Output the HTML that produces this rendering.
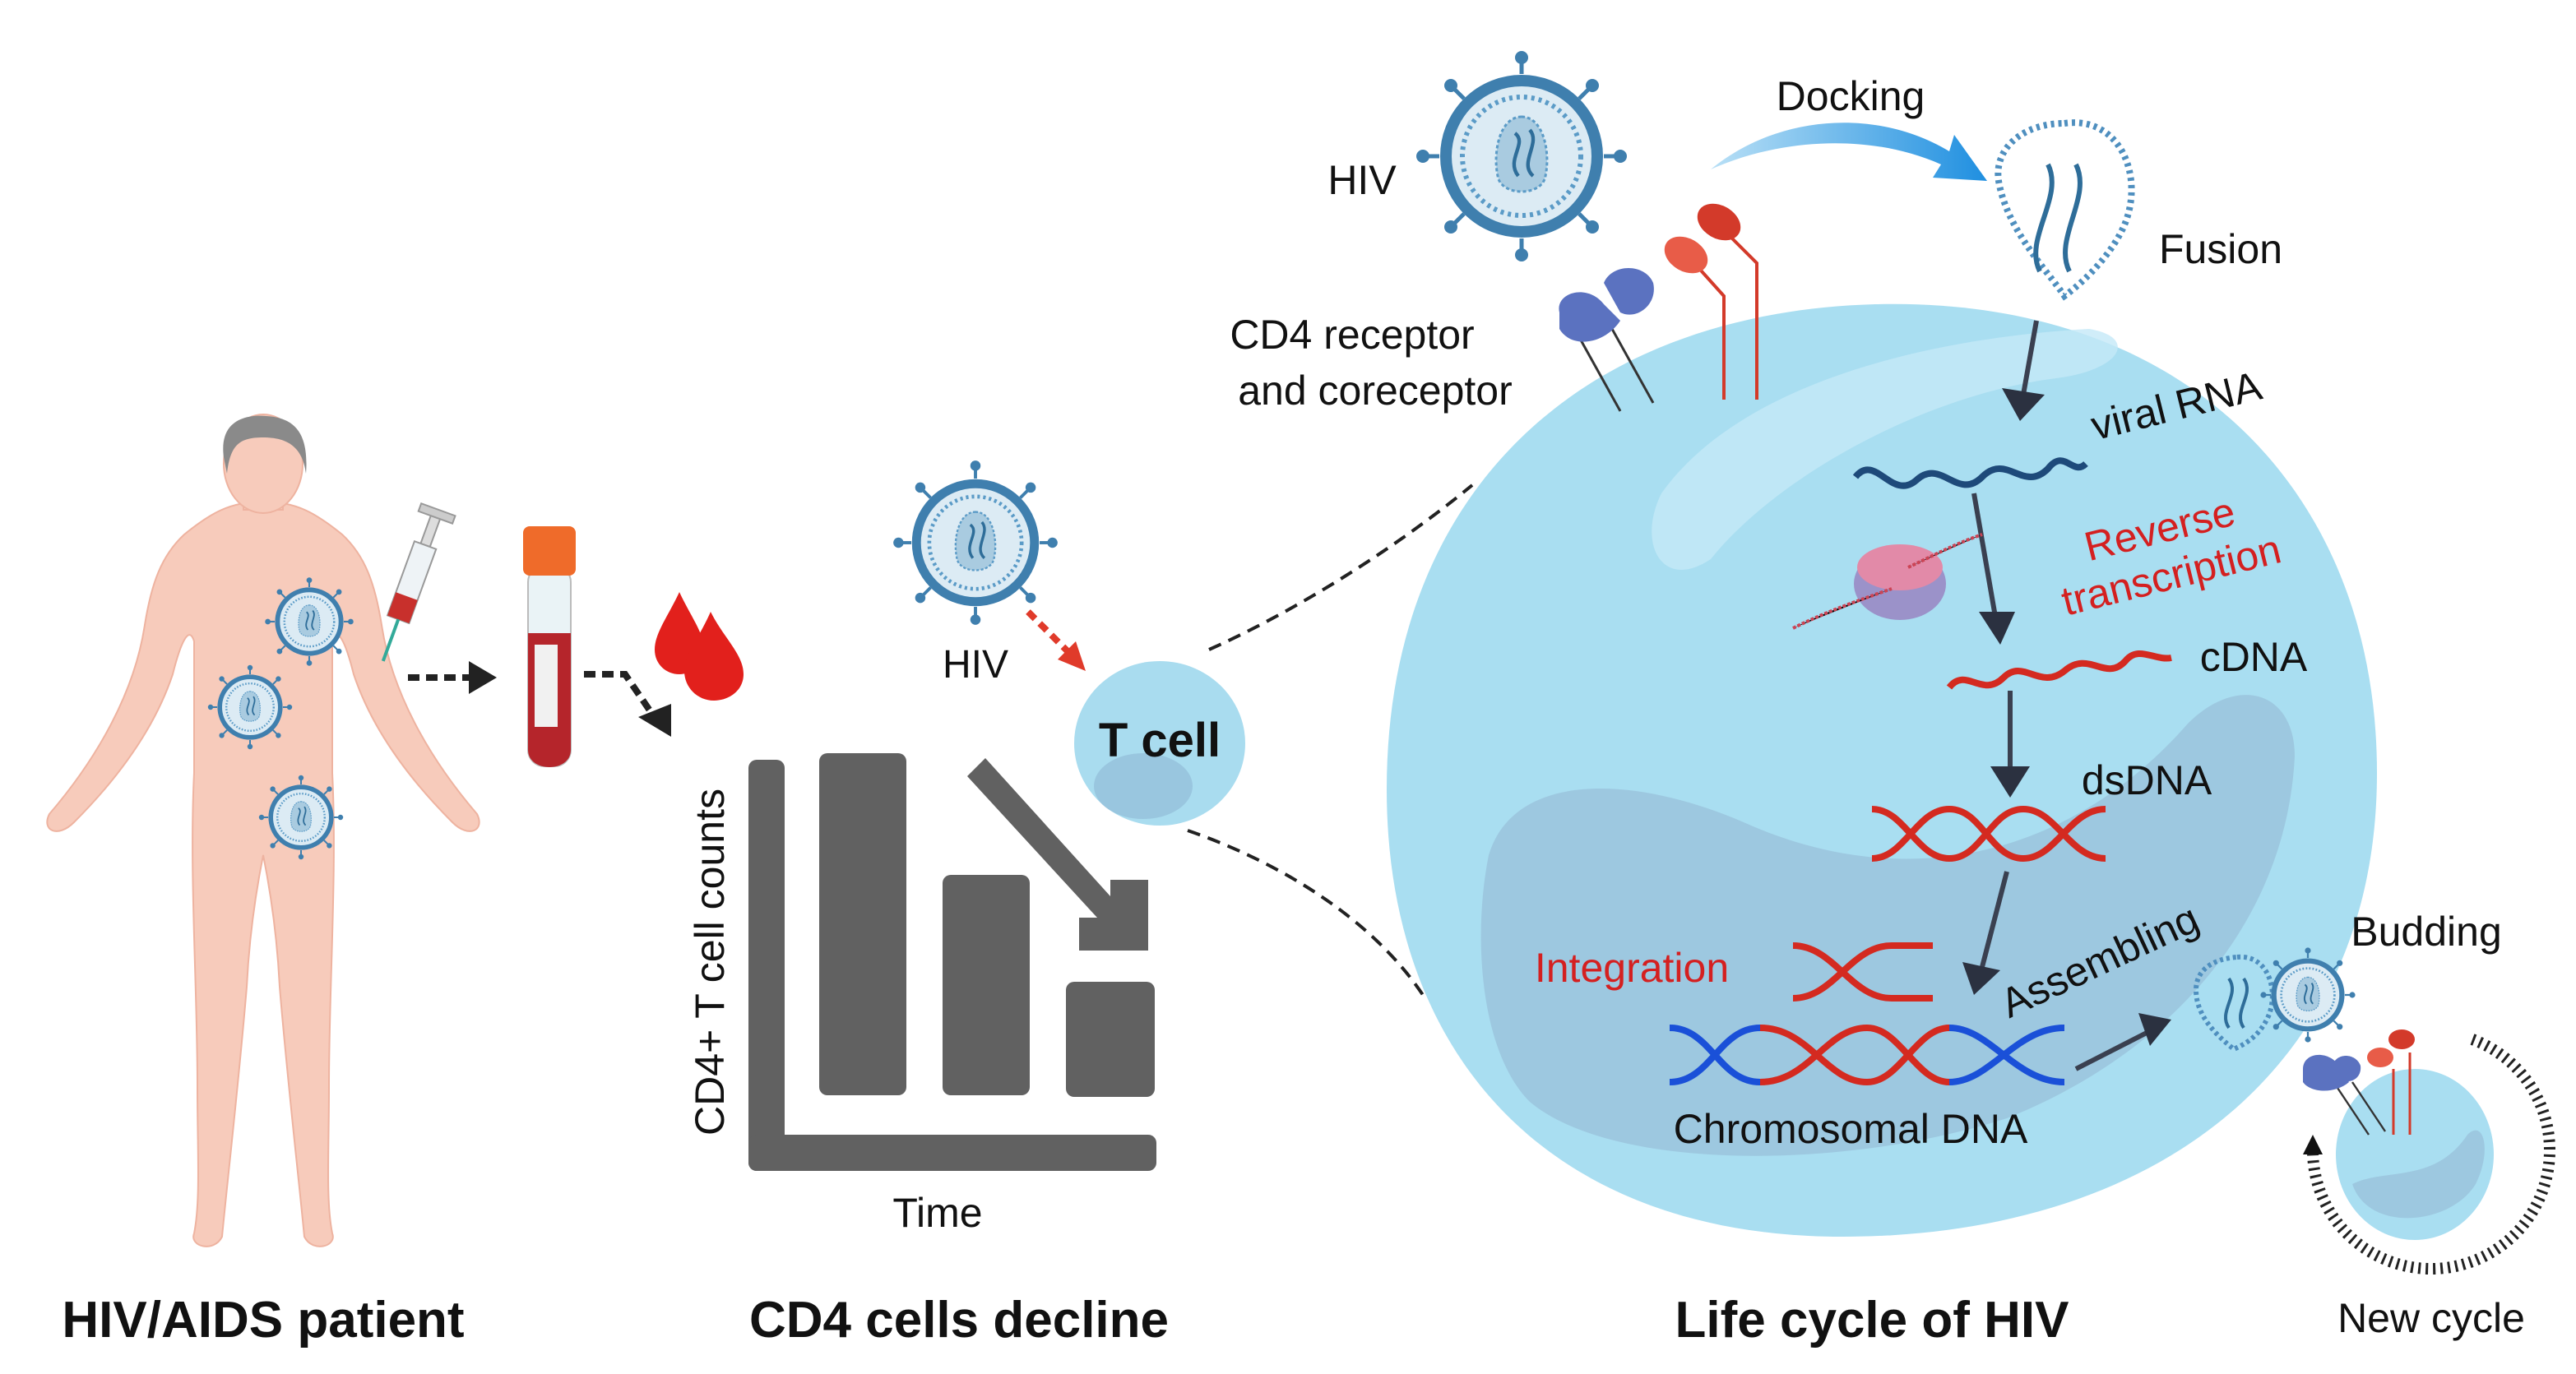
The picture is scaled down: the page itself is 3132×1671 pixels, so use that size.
<!DOCTYPE html>
<html><head><meta charset="utf-8"><style>
html,body{margin:0;padding:0;background:#fff;}
svg{display:block;}
text{font-family:"Liberation Sans",sans-serif;}
</style></head><body>
<svg width="3132" height="1671" viewBox="0 0 1566 835.5" xmlns="http://www.w3.org/2000/svg">
<defs>
<g id="virus">
  <g stroke="#3f7fae" stroke-width="2.5">
    <line x1="0" y1="-50" x2="0" y2="-58"/><line x1="0" y1="50" x2="0" y2="58"/>
    <line x1="-50" y1="0" x2="-58" y2="0"/><line x1="50" y1="0" x2="58" y2="0"/>
    <line x1="35" y1="35" x2="41" y2="41"/><line x1="-35" y1="35" x2="-41" y2="41"/>
    <line x1="35" y1="-35" x2="41" y2="-41"/><line x1="-35" y1="-35" x2="-41" y2="-41"/>
  </g>
  <g fill="#3f7fae">
    <circle cx="0" cy="-60" r="4"/><circle cx="0" cy="60" r="4"/><circle cx="-60" cy="0" r="4"/><circle cx="60" cy="0" r="4"/>
    <circle cx="43" cy="43" r="4"/><circle cx="-43" cy="43" r="4"/><circle cx="43" cy="-43" r="4"/><circle cx="-43" cy="-43" r="4"/>
  </g>
  <circle r="46" fill="#dcebf4" stroke="#3f7fae" stroke-width="7"/>
  <circle r="36" fill="none" stroke="#5b9bc7" stroke-width="3" stroke-dasharray="2 2.5"/>
  <path d="M0,-24 C14,-24 18,0 14,14 C10,24 -10,24 -14,14 C-18,0 -14,-24 0,-24Z" fill="#a9cbe0" stroke="#5b9bc7" stroke-width="1.5" stroke-dasharray="2 1.5"/>
  <path d="M-4,-14 C4,-8 -10,2 -2,12 M5,-16 C12,-8 -2,4 7,12" fill="none" stroke="#2e6d99" stroke-width="2.2"/>
</g>
<linearGradient id="dock" x1="0" x2="1"><stop offset="0" stop-color="#b9e0f6"/><stop offset="1" stop-color="#1f8fe0"/></linearGradient>
</defs>

<!-- PATIENT -->
<g fill="#f7cbbb" stroke="#eeb3a0" stroke-width="1">
  <path d="M160,305 C140,305 128,312 112,325 C98,338 92,355 88,380 C82,420 60,460 30,495 C25,505 35,510 45,500 C75,470 95,440 105,410 C110,390 115,380 118,390 L118,470 C115,530 120,600 120,660 C120,700 122,730 118,750 C115,758 130,762 135,752 C138,720 145,660 150,600 C152,560 158,530 160,520 C162,530 168,560 170,600 C175,660 182,720 185,752 C190,762 205,758 202,750 C198,730 200,700 200,660 C200,600 205,530 202,470 L202,390 C205,380 210,390 215,410 C225,440 245,470 275,500 C285,510 295,505 290,495 C260,460 238,420 232,380 C228,355 222,338 208,325 C192,312 180,305 160,305Z"/>
  <path d="M148,290 L148,310 L172,310 L172,290Z"/>
  <ellipse cx="160" cy="282" rx="24" ry="30"/>
</g>
<path d="M136,278 C133,255 150,252 162,253 C178,254 188,262 186,288 C184,272 175,266 160,266 C146,266 140,270 138,288Z" fill="#8a8a8a"/>
<g transform="translate(188,378) scale(0.42)"><use href="#virus"/></g>
<g transform="translate(152,430) scale(0.4)"><use href="#virus"/></g>
<g transform="translate(183,497) scale(0.4)"><use href="#virus"/></g>
<!-- syringe -->
<g transform="translate(250,355) rotate(20)">
  <rect x="-3" y="-45" width="6" height="20" fill="#ddd" stroke="#999"/>
  <rect x="-11" y="-48" width="22" height="5" fill="#ccc" stroke="#999"/>
  <rect x="-7" y="-25" width="14" height="48" fill="#eef3f6" stroke="#999"/>
  <rect x="-7" y="8" width="14" height="15" fill="#c8302c"/>
  <line x1="0" y1="23" x2="0" y2="50" stroke="#3a9" stroke-width="2"/>
</g>
<g stroke="#222" stroke-width="4" stroke-dasharray="7 4" fill="none">
  <line x1="248" y1="412" x2="285" y2="412"/>
  <path d="M355,410 L380,410 L395,432"/>
</g>
<path d="M285,402 L302,412 L285,422Z" fill="#222"/>
<path d="M388,436 L408,448 L408,428Z" fill="#222"/>
<rect x="321" y="344" width="26" height="122" rx="10" fill="#eaf3f6" stroke="#bbb"/>
<path d="M321,385 L347,385 L347,456 C347,470 321,470 321,456Z" fill="#b5252b"/>
<rect x="325" y="392" width="14" height="50" fill="#f1f1f1"/>
<rect x="318" y="320" width="32" height="30" rx="4" fill="#ef6b2a"/>
<path d="M413,360 C420,375 428,385 428,395 C428,405 420,410 413,410 C405,410 398,404 398,395 C398,385 406,375 413,360Z" fill="#e2201c"/>
<path d="M432,372 C440,388 452,398 452,410 C452,420 443,426 434,426 C424,426 416,418 416,408 C416,398 425,388 432,372Z" fill="#e2201c"/>

<!-- CHART -->
<g fill="#616161">
  <rect x="455" y="462" width="22" height="250" rx="5"/>
  <rect x="455" y="690" width="248" height="22" rx="5"/>
  <rect x="498" y="458" width="53" height="208" rx="5"/>
  <rect x="573" y="532" width="53" height="134" rx="5"/>
  <rect x="648" y="597" width="54" height="70" rx="5"/>
  <path d="M588,472 L599,461 L675,545 L675,535 L698,535 L698,578 L656,578 L656,558 L667,558Z"/>
</g>
<text transform="translate(440,585) rotate(-90)" font-size="25" text-anchor="middle" fill="#111">CD4+ T cell counts</text>
<text x="570" y="746" font-size="25" text-anchor="middle" fill="#111">Time</text>

<g transform="translate(593,330) scale(0.78)"><use href="#virus"/></g>
<text x="593" y="412" font-size="24" text-anchor="middle" fill="#111">HIV</text>
<line x1="625" y1="372" x2="650" y2="397" stroke="#e03a2a" stroke-width="4" stroke-dasharray="6 4"/>
<path d="M643,401 L660,408 L654,390Z" fill="#e03a2a"/>
<ellipse cx="705" cy="452" rx="52" ry="50" fill="#a9dcef"/>
<ellipse cx="695" cy="478" rx="30" ry="20" fill="#8fb8d3" opacity=".6"/>
<text x="705" y="460" font-size="29" font-weight="bold" text-anchor="middle" fill="#111">T cell</text>
<g stroke="#222" stroke-width="2" stroke-dasharray="8 5" fill="none">
  <path d="M735,395 C780,375 840,340 895,295"/>
  <path d="M722,505 C780,525 835,560 865,605"/>
</g>

<!-- BIG CELL -->
<path d="M1140,185 C1330,180 1445,300 1445,470 C1445,650 1310,752 1120,752 C940,752 843,640 843,480 C843,300 960,190 1140,185Z" fill="#a9def1"/>
<path d="M1010,300 C1060,230 1180,205 1270,200 C1300,205 1290,225 1250,230 C1170,240 1080,290 1040,340 C1010,360 995,330 1010,300Z" fill="#c4e9f7" opacity=".8"/>
<path d="M905,520 C920,470 990,470 1060,500 C1160,545 1260,520 1330,440 C1360,410 1395,420 1395,460 C1390,560 1320,640 1220,680 C1120,712 980,712 930,670 C900,640 895,570 905,520Z" fill="#98bfd8" opacity=".7"/>

<g stroke="#333" stroke-width="1.5"><line x1="960" y1="205" x2="985" y2="250"/><line x1="980" y1="200" x2="1005" y2="245"/></g>
<path d="M948,190 C945,178 965,172 975,185 L985,195 C975,210 955,212 948,200Z" fill="#5b72c0"/>
<path d="M975,172 C980,160 1000,160 1005,172 C1008,185 995,195 985,190Z" fill="#5b72c0"/>
<g stroke="#d33a2a" stroke-width="2" fill="none"><path d="M1030,160 L1048,180 L1048,243"/><path d="M1048,140 L1068,160 L1068,243"/></g>
<ellipse cx="1025" cy="155" rx="14" ry="10" transform="rotate(30 1025 155)" fill="#e85c48"/>
<ellipse cx="1045" cy="135" rx="14" ry="10" transform="rotate(30 1045 135)" fill="#d33a2a"/>
<g transform="translate(925,95)"><use href="#virus"/></g>
<text x="828" y="118" font-size="25" text-anchor="middle" fill="#111">HIV</text>
<text x="822" y="212" font-size="25" text-anchor="middle" fill="#111">CD4 receptor</text>
<text x="836" y="246" font-size="25" text-anchor="middle" fill="#111">and coreceptor</text>

<path d="M1040,103 C1080,70 1140,65 1185,92 L1188,82 L1208,110 L1175,108 L1180,100 C1135,80 1080,85 1040,103Z" fill="url(#dock)"/>
<text x="1125" y="67" font-size="25" text-anchor="middle" fill="#111">Docking</text>
<path d="M1255,75 C1290,70 1305,110 1290,140 C1280,160 1262,175 1255,180 C1245,165 1220,140 1215,110 C1212,90 1230,75 1255,75Z" fill="none" stroke="#4f8fbf" stroke-width="4" stroke-dasharray="2 2.5"/>
<path d="M1245,100 C1255,120 1230,145 1240,165 M1262,100 C1272,120 1248,145 1258,165" fill="none" stroke="#2e6d99" stroke-width="3"/>
<text x="1350" y="160" font-size="25" text-anchor="middle" fill="#111">Fusion</text>

<g stroke="#3a4050" stroke-width="3">
  <line x1="1238" y1="195" x2="1230" y2="240"/>
  <line x1="1200" y1="300" x2="1213" y2="375"/>
  <line x1="1222" y1="420" x2="1222" y2="470"/>
  <line x1="1220" y1="530" x2="1205" y2="588"/>
  <line x1="1262" y1="650" x2="1305" y2="628"/>
</g>
<g fill="#2b3140">
  <path d="M1217,236 L1243,240 L1228,256Z"/>
  <path d="M1203,372 L1225,372 L1216,392Z"/>
  <path d="M1210,466 L1234,466 L1222,485Z"/>
  <path d="M1193,585 L1216,590 L1200,605Z"/>
  <path d="M1300,616 L1320,620 L1307,636Z"/>
</g>

<path d="M1128,290 C1140,275 1150,305 1165,292 C1180,278 1190,305 1205,290 C1220,275 1230,300 1245,285 C1255,272 1260,290 1268,282" fill="none" stroke="#1e4a7a" stroke-width="4"/>
<text transform="translate(1325,255) rotate(-14)" font-size="25" text-anchor="middle" fill="#111">viral RNA</text>
<text transform="translate(1315,330) rotate(-14)" font-size="25" text-anchor="middle" fill="#d42020">Reverse</text>
<text transform="translate(1322,358) rotate(-14)" font-size="25" text-anchor="middle" fill="#d42020">transcription</text>
<ellipse cx="1155" cy="355" rx="28" ry="22" fill="#9b92c9"/>
<ellipse cx="1155" cy="345" rx="26" ry="14" fill="#e28aa8"/>
<path d="M1090,382 C1110,372 1130,365 1150,358 M1160,345 C1175,338 1190,330 1205,325" stroke="#c45" stroke-width="2" stroke-dasharray="2 1"/>
<path d="M1185,418 C1195,405 1205,425 1218,412 C1230,400 1240,420 1255,408 C1270,395 1280,415 1292,402 C1300,392 1310,402 1320,400" fill="none" stroke="#d42a20" stroke-width="4"/>
<text x="1370" y="408" font-size="25" text-anchor="middle" fill="#111">cDNA</text>
<text x="1305" y="483" font-size="25" text-anchor="middle" fill="#111">dsDNA</text>
<g fill="none" stroke="#d42a20" stroke-width="4">
  <path d="M1138,492 C1158,492 1165,522 1185,522 C1205,522 1210,492 1230,492 C1250,492 1258,522 1280,522"/>
  <path d="M1138,522 C1158,522 1165,492 1185,492 C1205,492 1210,522 1230,522 C1250,522 1258,492 1280,492"/>
  <path d="M1090,575 C1115,575 1125,607 1150,607 L1175,607"/>
  <path d="M1090,607 C1115,607 1125,575 1150,575 L1175,575"/>
</g>
<g fill="none" stroke-width="4">
  <path d="M1015,625 C1040,625 1045,658 1070,658 M1015,658 C1040,658 1045,625 1070,625" stroke="#1a50d8"/>
  <path d="M1070,625 C1100,625 1110,658 1135,658 C1155,658 1165,625 1185,625 M1070,658 C1100,658 1110,625 1135,625 C1155,625 1165,658 1185,658" stroke="#d42a20"/>
  <path d="M1185,625 C1210,625 1225,658 1255,658 M1185,658 C1210,658 1225,625 1255,625" stroke="#1a50d8"/>
</g>
<text x="992" y="597" font-size="25" text-anchor="middle" fill="#d42020">Integration</text>
<text transform="translate(1280,592) rotate(-25)" font-size="25" text-anchor="middle" fill="#111">Assembling</text>
<text x="1125" y="695" font-size="25" text-anchor="middle" fill="#111">Chromosomal DNA</text>

<path d="M1360,582 C1380,580 1386,605 1378,620 C1372,632 1362,636 1358,638 C1348,630 1335,618 1335,602 C1335,590 1345,583 1360,582Z" fill="none" stroke="#4f8fbf" stroke-width="3" stroke-dasharray="2 2"/>
<path d="M1355,595 C1362,605 1348,615 1355,625 M1364,595 C1371,605 1357,615 1364,625" fill="none" stroke="#2e6d99" stroke-width="2"/>
<g transform="translate(1403,605) scale(0.45)"><use href="#virus"/></g>
<text x="1475" y="575" font-size="25" text-anchor="middle" fill="#111">Budding</text>
<ellipse cx="1468" cy="702" rx="48" ry="52" fill="#a9def1"/>
<path d="M1430,720 C1450,710 1480,720 1500,690 C1510,680 1515,700 1505,720 C1490,745 1440,750 1430,720Z" fill="#98bfd8" opacity=".7"/>
<g stroke="#333" stroke-width="1.2"><line x1="1420" y1="660" x2="1440" y2="690"/><line x1="1430" y1="658" x2="1450" y2="688"/></g>
<path d="M1400,650 C1400,640 1415,638 1422,648 L1428,658 C1420,665 1405,665 1400,658Z" fill="#5b72c0"/>
<path d="M1418,648 C1420,640 1432,640 1435,648 C1436,656 1428,660 1422,656Z" fill="#5b72c0"/>
<g stroke="#d33a2a" stroke-width="1.5" fill="none"><line x1="1455" y1="650" x2="1455" y2="690"/><line x1="1465" y1="640" x2="1465" y2="690"/></g>
<ellipse cx="1447" cy="643" rx="8" ry="6" fill="#e85c48"/><ellipse cx="1460" cy="632" rx="8" ry="6" fill="#d33a2a"/>
<path d="M1503,632 A72,72 0 1,1 1406,700" fill="none" stroke="#222" stroke-width="7" stroke-dasharray="1.5 3"/>
<path d="M1400,702 L1412,702 L1406,690Z" fill="#111"/>
<text x="1478" y="810" font-size="25" text-anchor="middle" fill="#111">New cycle</text>

<text x="160" y="813" font-size="31" font-weight="bold" text-anchor="middle" fill="#111">HIV/AIDS patient</text>
<text x="583" y="813" font-size="31" font-weight="bold" text-anchor="middle" fill="#111">CD4 cells decline</text>
<text x="1138" y="813" font-size="31" font-weight="bold" text-anchor="middle" fill="#111">Life cycle of HIV</text>
</svg>
</body></html>
